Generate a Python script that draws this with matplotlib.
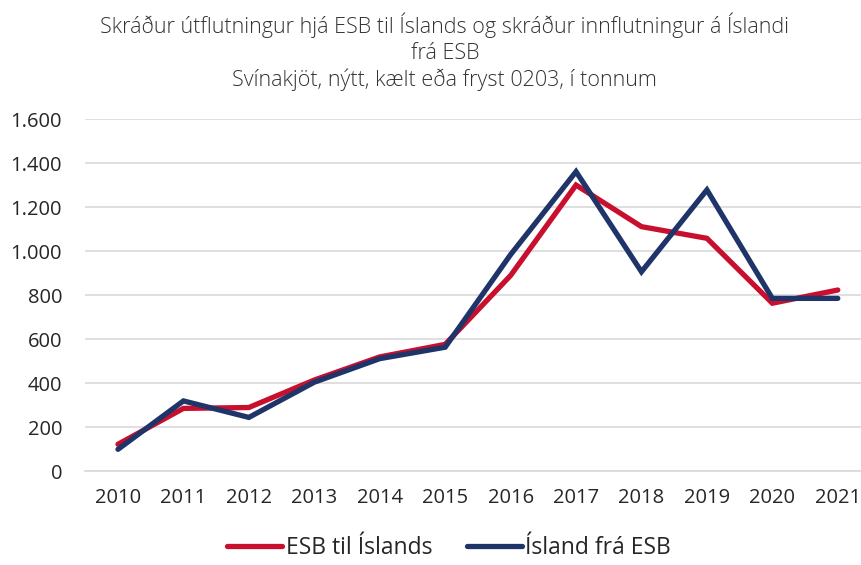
import matplotlib
matplotlib.use("Agg")
import matplotlib.pyplot as plt
from matplotlib.ticker import FuncFormatter

# ── Data ──────────────────────────────────────────────────────────────────────
years = ["2010", "2011", "2012", "2013", "2014", "2015",
         "2016", "2017", "2018", "2019", "2020", "2021"]
esb_til_islands = [123, 286, 290, 415, 520, 577, 890, 1301, 1112, 1059, 764, 824]
island_fra_esb = [100, 320, 245, 405, 512, 564, 985, 1362, 907, 1279, 786, 786]

title = ("Skráður útflutningur hjá ESB til Íslands og skráður innflutningur á Íslandi\n"
         "frá ESB\n"
         "Svínakjöt, nýtt, kælt eða fryst 0203, í tonnum")

RED = "#C8102E"
NAVY = "#1F3468"

plt.rcParams['font.family'] = ['Open Sans', 'DejaVu Sans']

fig = plt.figure(figsize=(8.62, 5.65), dpi=100)
ax = fig.add_axes([85 / 862, 0.1658, (862 - 85) / 862, 0.6231])

x = list(range(len(years)))
ax.plot(x, esb_til_islands, color=RED, linewidth=3.8, solid_capstyle='round',
        solid_joinstyle='miter', label="ESB til Íslands", zorder=3)
ax.plot(x, island_fra_esb, color=NAVY, linewidth=3.8, solid_capstyle='round',
        solid_joinstyle='miter', label="Ísland frá ESB", zorder=4)

ax.set_xlim(-0.504, 11.37)
ax.set_ylim(0, 1600)
ax.set_yticks(range(0, 1601, 200))
ax.yaxis.set_major_formatter(FuncFormatter(lambda v, p: f"{int(v):,}".replace(",", ".")))
ax.set_xticks(x)
ax.set_xticklabels(years)
ax.grid(True, axis='y', color='#D9D9D9', linewidth=1.2)
ax.set_axisbelow(True)
for s in ['top', 'right', 'left']:
    ax.spines[s].set_visible(False)
ax.spines['bottom'].set_color('#D9D9D9')
ax.spines['bottom'].set_linewidth(1.2)
ax.tick_params(axis='both', length=0, labelsize=14.5, colors='#262626')
ax.tick_params(axis='y', pad=16.5)
ax.tick_params(axis='x', pad=12)

fig.text(0.516, 0.978, title, ha='center', va='top', fontsize=15.5,
         color='#333333', linespacing=1.3, fontweight='light')

leg = fig.legend(loc='lower center', bbox_to_anchor=(0.521, -0.028), ncol=2,
                 frameon=False, fontsize=16.5, handlelength=2.4, handletextpad=0.15,
                 columnspacing=1.5)
for t in leg.get_texts():
    t.set_color('#262626')

fig.savefig("out.png", dpi=100)
